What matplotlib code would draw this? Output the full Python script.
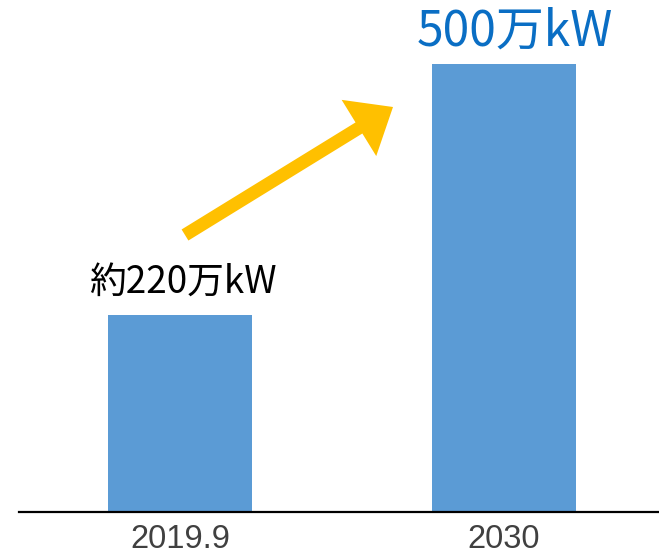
import matplotlib
matplotlib.use("Agg")
import matplotlib.pyplot as plt
from matplotlib.patches import FancyArrow
from matplotlib.transforms import IdentityTransform

categories = ["2019.9", "2030"]
values = [220, 500]
value_labels = ["約220万kW", "500万kW"]

W, H, DPI = 659, 558, 100
fig = plt.figure(figsize=(W / DPI, H / DPI), dpi=DPI)
fig.patch.set_facecolor("white")

# axes: baseline at y=512 px, axis line from x=19 px to right edge
left_px, base_px = 19, 512
ax = fig.add_axes([left_px / W, (H - base_px) / H, 1 - left_px / W, base_px / H])
ax.set_facecolor("none")

x = list(range(len(categories)))
ax.bar(x, values, width=0.444, color="#5B9BD5", zorder=2)

# x-range: centers at 180 px and 504 px
px_per_unit = 324.0
ax.set_xlim(-(180 - left_px) / px_per_unit, (W - 180) / px_per_unit)
ax.set_ylim(0, 571)

for s in ["top", "right", "left"]:
    ax.spines[s].set_visible(False)
ax.spines["bottom"].set_linewidth(1.6)
ax.spines["bottom"].set_color("black")
ax.set_yticks([])
ax.set_xticks(x)
ax.set_xticklabels(categories, fontsize=23.5, color="#404040",
                   family=["Liberation Sans", "DejaVu Sans"])
ax.tick_params(axis="x", length=0, pad=9)

# value labels
offsets = [(3, 32), (11, 32)]
sizes = [26.5, 34.5]
colors = ["black", "#0A6EC4"]
for xi, v, lab, off, fs, c in zip(x, values, value_labels, offsets, sizes, colors):
    ax.annotate(lab, xy=(xi, v), xytext=off, textcoords="offset pixels",
                ha="center", va="center", fontsize=fs, color=c,
                family=["Noto Sans CJK JP", "DejaVu Sans"])

# arrow (decoration) in pixel coords
tail = (185, H - 235)
tip = (393, H - 107)
arr = FancyArrow(tail[0], tail[1], tip[0] - tail[0], tip[1] - tail[1],
                 width=13, head_width=66, head_length=40,
                 length_includes_head=True, color="#FFC000",
                 transform=IdentityTransform(), linewidth=0)
fig.add_artist(arr)

fig.savefig("out.png", dpi=DPI)
